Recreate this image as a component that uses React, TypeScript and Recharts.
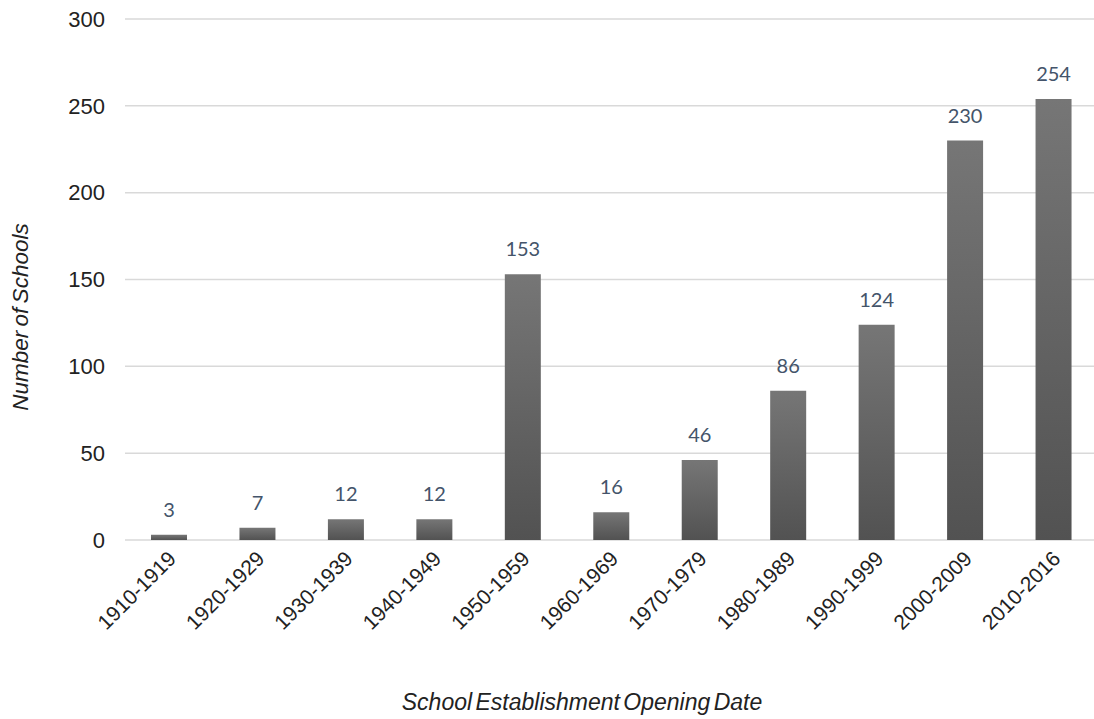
import { Bar, BarChart, CartesianGrid, LabelList, XAxis, YAxis } from "recharts";

const PERIODS = [
  "1910-1919",
  "1920-1929",
  "1930-1939",
  "1940-1949",
  "1950-1959",
  "1960-1969",
  "1970-1979",
  "1980-1989",
  "1990-1999",
  "2000-2009",
  "2010-2016",
];
const SCHOOL_COUNTS = [3, 7, 12, 12, 153, 16, 46, 86, 124, 230, 254];
const Y_TICKS = [0, 50, 100, 150, 200, 250, 300];

const data = PERIODS.map((period, i) => ({ period, schools: SCHOOL_COUNTS[i] }));

const AXIS_FONT = "Arial, 'Liberation Sans', sans-serif";

function SlantedTick({ x, y, payload }: any) {
  const tx = x + 8;
  const ty = y + 20;
  return (
    <text
      x={tx}
      y={ty}
      transform={`rotate(-45, ${tx}, ${ty})`}
      textAnchor="end"
      fontSize={21}
      fontFamily={AXIS_FONT}
      fill="#222"
    >
      {payload.value}
    </text>
  );
}

function CountLabel({ x, y, width, value }: any) {
  return (
    <text
      x={x + width / 2}
      y={y - 18}
      textAnchor="middle"
      fontSize={20}
      fontFamily="Lato, 'Open Sans', sans-serif"
      fill="#44546a"
    >
      {value}
    </text>
  );
}

export default function App() {
  return (
    <div
      style={{
        position: "absolute",
        left: 0,
        top: 0,
        width: 1094,
        height: 719,
        overflow: "hidden",
        background: "#fff",
      }}
    >
      <BarChart
        width={1110}
        height={719}
        data={data}
        margin={{ top: 19, right: 12, bottom: 9, left: 20 }}
      >
        <defs>
          <linearGradient id="barFill" x1="0" y1="0" x2="0" y2="1">
            <stop offset="0%" stopColor="#767676" />
            <stop offset="100%" stopColor="#525252" />
          </linearGradient>
        </defs>
        <CartesianGrid vertical={false} stroke="#d9d9d9" strokeWidth={1.5} />
        <XAxis
          dataKey="period"
          axisLine={false}
          tickLine={false}
          tickSize={0}
          tickMargin={0}
          height={170}
          interval={0}
          tick={<SlantedTick />}
        />
        <YAxis
          domain={[0, 300]}
          ticks={Y_TICKS}
          axisLine={false}
          tickLine={false}
          tickSize={0}
          tickMargin={20}
          width={105}
          tick={{ fontSize: 22, fontFamily: AXIS_FONT, fill: "#222" }}
        />
        <Bar
          dataKey="schools"
          fill="url(#barFill)"
          barSize={36}
          isAnimationActive={false}
        >
          <LabelList dataKey="schools" content={<CountLabel />} />
        </Bar>
        <text
          x={28}
          y={317}
          transform="rotate(-90, 28, 317)"
          textAnchor="middle"
          fontSize={22.5}
          fontStyle="italic"
          fontFamily={AXIS_FONT}
          wordSpacing={-2}
          fill="#222"
        >
          Number of Schools
        </text>
        <text
          x={582}
          y={710}
          textAnchor="middle"
          fontSize={23}
          fontStyle="italic"
          fontFamily={AXIS_FONT}
          wordSpacing={-3}
          fill="#222"
        >
          School Establishment Opening Date
        </text>
      </BarChart>
    </div>
  );
}
